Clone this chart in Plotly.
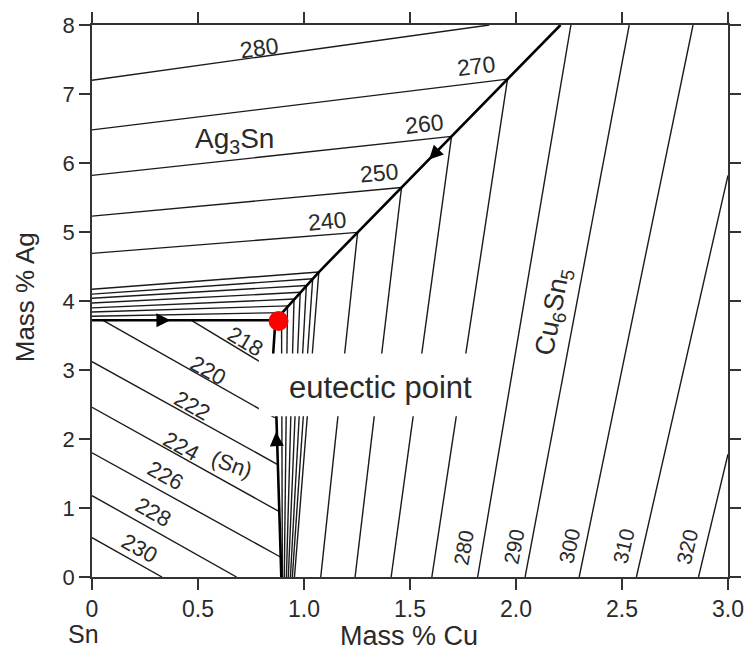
import plotly.graph_objects as go

# ---------------- data ----------------
# Liquidus valleys (thick lines)
valley_h_x = [0.0, 0.865]
valley_h_y = [3.72, 3.72]
valley_up_x = [0.865, 1.07, 2.21]
valley_up_y = [3.72, 4.42, 8.0]
valley_dn_x = [0.865, 0.855, 0.87, 0.893]
valley_dn_y = [3.72, 3.25, 2.30, 0.0]
eutectic_x = [0.88]
eutectic_y = [3.71]

# Ag3Sn primary field isotherms (deg C)
ag3sn_T = [280, 270, 260, 250, 240]
ag3sn_x0 = [0, 0, 0, 0, 0]
ag3sn_y0 = [7.20, 6.48, 5.82, 5.23, 4.69]
ag3sn_x1 = [1.874, 1.96, 1.696, 1.46, 1.253]
ag3sn_y1 = [8.0, 7.215, 6.386, 5.645, 4.995]
ag3sn_lx = [0.789, 1.811, 1.565, 1.352, 1.11]
ag3sn_ly = [7.67, 7.41, 6.57, 5.85, 5.16]
ag3sn_ang = [-8, -7, -6, -5, -5]

# dense unlabeled isotherms close to the eutectic (Ag3Sn field)
band_x0 = [0, 0, 0, 0, 0, 0, 0]
band_y0 = [4.17, 4.10, 4.04, 3.97, 3.90, 3.84, 3.78]
band_x1 = [1.07, 1.041, 1.013, 0.984, 0.955, 0.927, 0.898]
band_y1 = [4.42, 4.322, 4.224, 4.126, 4.028, 3.93, 3.832]

# dense unlabeled isotherms close to the eutectic (Cu6Sn5 field)
fan_x0 = [0.894, 0.922, 0.953, 0.982, 1.011, 1.041, 1.07]
fan_y0 = [3.818, 3.916, 4.021, 4.119, 4.217, 4.322, 4.42]
fan_x1 = [0.898, 0.907, 0.917, 0.926, 0.936, 0.945, 0.955]
fan_y1 = [0, 0, 0, 0, 0, 0, 0]

# (Sn) primary field isotherms
sn_T = [218, 220, 222, 224, 226, 228, 230]
sn_x0 = [0.469, 0.052, 0, 0, 0, 0, 0]
sn_y0 = [3.72, 3.72, 3.12, 2.46, 1.80, 1.18, 0.57]
sn_x1 = [0.862, 0.862, 0.876, 0.882, 0.889, 0.682, 0.33]
sn_y1 = [2.99, 2.31, 1.63, 0.95, 0.29, 0, 0]
sn_lx = [0.724, 0.549, 0.472, 0.423, 0.346, 0.292, 0.225]
sn_ly = [3.414, 3.00, 2.486, 1.896, 1.466, 0.938, 0.412]
sn_ang = [31, 29, 29, 29, 29, 29, 29]

# Cu6Sn5 primary field isotherms
cu_T = [240, 250, 260, 270, 280, 290, 300, 310, 320]
cu_x0 = [1.079, 1.241, 1.411, 1.603, 1.819, 2.043, 2.298, 2.568, 2.861]
cu_y0 = [0, 0, 0, 0, 0, 0, 0, 0, 0]
cu_x1 = [1.253, 1.46, 1.696, 1.96, 2.259, 2.534, 2.835, 3.0, 3.0]
cu_y1 = [4.995, 5.645, 6.386, 7.215, 8.0, 8.0, 8.0, 5.82, 1.78]
cu_label_T = [280, 290, 300, 310, 320]
cu_lx = [1.75, 1.99, 2.25, 2.506, 2.806]
cu_ly = [0.42, 0.446, 0.446, 0.446, 0.446]
cu_ang = [-80, -79, -78, -77, -77]

x_ticks = [0, 0.5, 1.0, 1.5, 2.0, 2.5, 3.0]
x_ticktext = ["0", "0.5", "1.0", "1.5", "2.0", "2.5", "3.0"]
y_ticks = [0, 1, 2, 3, 4, 5, 6, 7, 8]

# direction arrows on the valleys: (head x, head y, tail x, tail y)
arrows = [(0.37, 3.72, 0.30, 3.72),
          (0.868, 2.10, 0.872, 1.90),
          (1.59, 6.05, 1.62, 6.145)]

# text-box hiding region behind "eutectic point"
box_x = [0.787, 1.866]
box_y = [2.33, 3.24]

FONT = "Liberation Sans, Arial, sans-serif"
TXT = "#2a2a2a"


def segs(x0, y0, x1, y1):
    xs, ys = [], []
    for a, b, c, d in zip(x0, y0, x1, y1):
        xs += [a, c, None]
        ys += [b, d, None]
    return xs, ys


fig = go.Figure()

thin = dict(color="#1a1a1a", width=1.4)
for group in [(ag3sn_x0, ag3sn_y0, ag3sn_x1, ag3sn_y1),
              (band_x0, band_y0, band_x1, band_y1),
              (fan_x0, fan_y0, fan_x1, fan_y1),
              (sn_x0, sn_y0, sn_x1, sn_y1),
              (cu_x0, cu_y0, cu_x1, cu_y1)]:
    xs, ys = segs(*group)
    fig.add_trace(go.Scatter(x=xs, y=ys, mode="lines", line=thin,
                             hoverinfo="skip", showlegend=False))

thick = dict(color="#000000", width=2.6)
for vx, vy in [(valley_h_x, valley_h_y), (valley_up_x, valley_up_y),
               (valley_dn_x, valley_dn_y)]:
    fig.add_trace(go.Scatter(x=vx, y=vy, mode="lines", line=thick,
                             hoverinfo="skip", showlegend=False))

fig.add_trace(go.Scatter(x=eutectic_x, y=eutectic_y, mode="markers",
                         marker=dict(color="#ff0000", size=20),
                         hoverinfo="skip", showlegend=False))

# white box behind the "eutectic point" text
fig.add_shape(type="rect", xref="x", yref="y", x0=box_x[0], x1=box_x[1],
              y0=box_y[0], y1=box_y[1], fillcolor="white",
              line=dict(width=0), layer="above")

ann = []
lab_font = dict(family=FONT, size=23, color=TXT)
sn_font = dict(family=FONT, size=22, color=TXT)
cu_font = dict(family=FONT, size=21, color=TXT)
for t, x, y, a in zip(ag3sn_T, ag3sn_lx, ag3sn_ly, ag3sn_ang):
    ann.append(dict(x=x, y=y, text=str(t), textangle=a, showarrow=False,
                    font=lab_font, xanchor="center", yanchor="middle"))
for t, x, y, a in zip(sn_T, sn_lx, sn_ly, sn_ang):
    ann.append(dict(x=x, y=y, text=str(t), textangle=a, showarrow=False,
                    font=sn_font, xanchor="center", yanchor="middle"))
for t, x, y, a in zip(cu_label_T, cu_lx, cu_ly, cu_ang):
    ann.append(dict(x=x, y=y, text=str(t), textangle=a, showarrow=False,
                    font=cu_font, xanchor="center", yanchor="middle"))

ann.append(dict(x=0.66, y=1.633, text="(Sn)", textangle=20, showarrow=False,
                font=sn_font, xanchor="center", yanchor="middle"))
ann.append(dict(x=0.671, y=6.32, text="Ag<sub>3</sub>Sn", showarrow=False,
                font=dict(family=FONT, size=28, color=TXT)))
ann.append(dict(x=2.18, y=3.84, text="Cu<sub>6</sub>Sn<sub>5</sub>", textangle=-79,
                showarrow=False, font=dict(family=FONT, size=27, color=TXT)))
ann.append(dict(x=1.36, y=2.75, text="eutectic point", showarrow=False,
                font=dict(family=FONT, size=31, color=TXT)))

for hx, hy, tx, ty in arrows:
    ann.append(dict(x=hx, y=hy, ax=tx, ay=ty, xref="x", yref="y",
                    axref="x", ayref="y", text="", showarrow=True,
                    arrowhead=2, arrowsize=1.4, arrowwidth=2,
                    arrowcolor="#000000", standoff=0, startstandoff=0))

# outside texts
ann.append(dict(xref="paper", yref="paper", x=-0.014, y=-0.104, text="Sn",
                showarrow=False, font=dict(family=FONT, size=25, color=TXT),
                xanchor="center", yanchor="middle"))
ann.append(dict(xref="paper", yref="paper", x=0.499, y=-0.107, text="Mass % Cu",
                showarrow=False, font=dict(family=FONT, size=27, color=TXT),
                xanchor="center", yanchor="middle"))
ann.append(dict(xref="paper", yref="paper", x=-0.106, y=0.506, text="Mass % Ag",
                textangle=-90, showarrow=False,
                font=dict(family=FONT, size=26, color=TXT),
                xanchor="center", yanchor="middle"))

axis_common = dict(showgrid=False, zeroline=False, showline=True,
                   linecolor="#333333", linewidth=1.6, mirror="ticks",
                   ticks="outside", ticklen=11, tickwidth=1.6,
                   tickcolor="#333333")

fig.update_layout(
    width=756, height=652,
    margin=dict(l=92, r=15, t=23, b=75),
    paper_bgcolor="white", plot_bgcolor="white",
    xaxis=dict(range=[0, 3.0], tickvals=x_ticks, ticktext=x_ticktext,
               tickfont=dict(family=FONT, size=23, color=TXT),
               **axis_common),
    yaxis=dict(range=[0, 8], tickvals=y_ticks,
               tickfont=dict(family=FONT, size=22, color=TXT),
               **axis_common),
    annotations=ann,
    showlegend=False,
)

fig.write_html("out.html")
